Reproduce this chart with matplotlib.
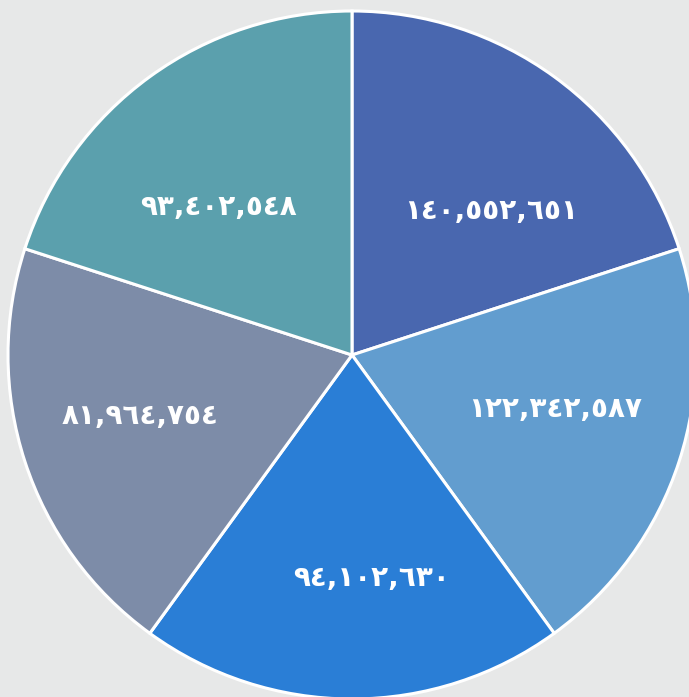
import matplotlib
matplotlib.use("Agg")
import matplotlib.pyplot as plt
import numpy as np

labels = ["١٤٠,٥٥٢,٦٥١", "١٢٢,٣٤٢,٥٨٧", "٩٤,١٠٢,٦٣٠", "٨١,٩٦٤,٧٥٤", "٩٣,٤٠٢,٥٤٨"]
values = [140552651, 122342587, 94102630, 81964754, 93402548]
weights = [1, 1, 1, 1, 1]  # slices are drawn with equal angles in the reference
colors = ["#4967AF", "#629DCF", "#2A7ED6", "#7D8CA8", "#5BA0AD"]

# label placement tweaks (style): angle shift from wedge centre, radial distance
angle_shift = [-8, 3, 5, -2, 6]
label_dist = [0.58, 0.61, 0.65, 0.64, 0.58]

fig = plt.figure(figsize=(6.89, 6.97), dpi=100)
fig.patch.set_facecolor("#E7E8E8")
ax = fig.add_axes([8/689, -2/697, 688/689, 688/697])
ax.set_facecolor("#E7E8E8")

wedges, texts = ax.pie(weights, labels=labels, colors=colors, startangle=90,
                       counterclock=False, labeldistance=0.6,
                       wedgeprops=dict(edgecolor="white", linewidth=2.2),
                       textprops=dict(color="white", fontsize=20, fontweight="bold",
                                      family=["DejaVu Sans"]),
                       radius=1.0)
for w, t, s, d in zip(wedges, texts, angle_shift, label_dist):
    a = np.deg2rad((w.theta1 + w.theta2) / 2 + s)
    t.set_position((d * np.cos(a), d * np.sin(a)))
    t.set_ha("center")
    t.set_va("center")
ax.set_xlim(-1, 1)
ax.set_ylim(-1, 1)
ax.set_aspect("equal")
ax.axis("off")
fig.savefig("out.png", dpi=100, facecolor=fig.get_facecolor())
